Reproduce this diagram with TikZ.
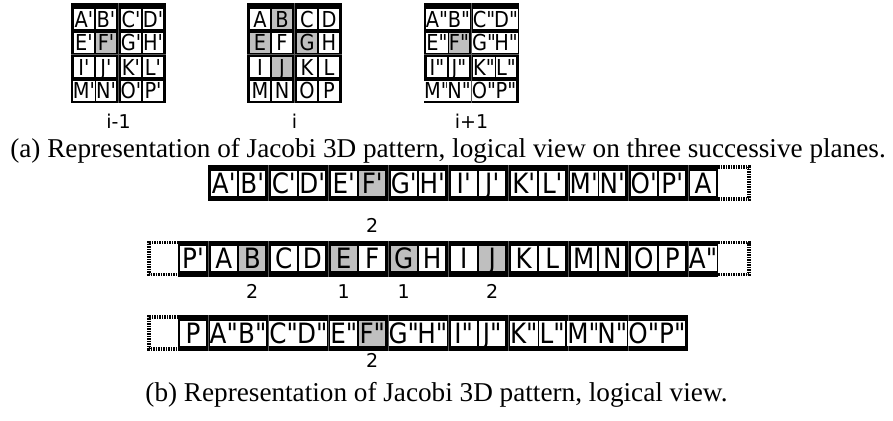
\documentclass[tikz,border=0pt]{standalone}
\usepackage{fontspec}
\setmainfont{Liberation Serif}
\newfontfamily\cellfont[FakeStretch=0.88,Ligatures=TeXOff]{DejaVu Sans}
\newfontfamily\labfont{DejaVu Sans}
\colorlet{c0}{white}
\colorlet{c1}{black!25}
\tikzstyle{cellule} = [rectangle, inner sep=0pt, minimum width=13pt, minimum height=12.5pt, text height=10.2pt, text depth=0pt, font=\cellfont\fontsize{14}{14}\selectfont]
\tikzstyle{petite} = [rectangle, inner sep=0pt, minimum width=10pt, minimum height=10pt, text height=8pt, text depth=0pt, font=\cellfont\fontsize{11}{11}\selectfont]
\tikzstyle{bande} = [fill=black]
\tikzstyle{couture} = [draw=black!65, line width=0.4pt]
\tikzstyle{pointille} = [line width=1.6pt, dash pattern=on 0.75pt off 0.5pt]
\tikzstyle{indice} = [inner sep=0pt, font=\labfont\fontsize{9.5}{9.5}\selectfont]
\tikzstyle{legende} = [inner sep=0pt, anchor=base, font=\fontsize{13.6}{16}\selectfont]

\begin{document}
\begin{tikzpicture}[x=0.5pt,y=-0.5pt]
                \useasboundingbox (0,0) rectangle (893,420);

                % plan i-1
                \fill[bande] (71,3) rectangle +(95,100);
                \draw[couture] (118.5,3) -- (118.5,103);
                \draw[couture] (71,54.75) -- (166,54.75);
                \foreach \t/\c [count=\n from 0] in {A'/0,B'/0,C'/0,D'/0,E'/0,F'/1,G'/0,H'/0,I'/0,J'/0,K'/0,L'/0,M'/0,N'/0,O'/0,P'/0}{
                    \pgfmathtruncatemacro\col{mod(\n,4)}
                    \pgfmathtruncatemacro\lig{int(\n/4)}
                    \node[petite, fill=c\c] (pa\n) at ({71+13+22*\col+3*int(\col/2)}, {3+16+23.5*\lig+int(\lig/2)}) {\t};
                }
                \node[indice] (ia) at (118.5,121.5) {i-1};

                % plan i
                \fill[bande] (247,3) rectangle +(95,100);
                \draw[couture] (294.5,3) -- (294.5,103);
                \draw[couture] (247,54.75) -- (342,54.75);
                \foreach \t/\c [count=\n from 0] in {A/0,B/1,C/0,D/0,E/1,F/0,G/1,H/0,I/0,J/1,K/0,L/0,M/0,N/0,O/0,P/0}{
                    \pgfmathtruncatemacro\col{mod(\n,4)}
                    \pgfmathtruncatemacro\lig{int(\n/4)}
                    \node[petite, fill=c\c] (pb\n) at ({247+13+22*\col+3*int(\col/2)}, {3+16+23.5*\lig+int(\lig/2)}) {\t};
                }
                \node[indice] (ib) at (294.5,121.5) {i};

                % plan i+1
                \fill[bande] (424,3) rectangle +(95,100);
                \draw[couture] (471.5,3) -- (471.5,103);
                \draw[couture] (424,54.75) -- (519,54.75);
                \foreach \t/\c [count=\n from 0] in {A"/0,B"/0,C"/0,D"/0,E"/0,F"/1,G"/0,H"/0,I"/0,J"/0,K"/0,L"/0,M"/0,N"/0,O"/0,P"/0}{
                    \pgfmathtruncatemacro\col{mod(\n,4)}
                    \pgfmathtruncatemacro\lig{int(\n/4)}
                    \node[petite, fill=c\c] (pc\n) at ({424+13+22*\col+3*int(\col/2)}, {3+16+23.5*\lig+int(\lig/2)}) {\t};
                }
                \node[indice] (ic) at (471.5,121.5) {i+1};

                \node[legende] (lega) at (448,157) {(a) Representation of Jacobi 3D pattern, logical view on three successive planes.};

                % vue logique, ligne 1
                \fill[bande] (208,165) rectangle (718,201);
                \foreach \x in {268,328,...,688} \draw[couture] (\x,165) -- (\x,201);
                \foreach \t/\c [count=\k from 0] in {A'/0,B'/0,C'/0,D'/0,E'/0,F'/1,G'/0,H'/0,I'/0,J'/0,K'/0,L'/0,M'/0,N'/0,O'/0,P'/0,A/0}{
                    \pgfmathsetmacro\dx{\k==16 ? 0 : (mod(\k,2)==0 ? 0.75 : -0.75)}
                    \node[cellule, fill=c\c] (ra\k) at ({208+30*\k+15+\dx}, 183) {\t};
                }
                \draw[pointille] (718,167) -- (749,167) -- (749,199) -- (718,199);
                \node[indice] (na) at (ra5 |- 0,225) {2};

                % ligne 2
                \fill[bande] (178,240.5) rectangle (718,276.5);
                \foreach \x in {208,268,...,688} \draw[couture] (\x,240.5) -- (\x,276.5);
                \foreach \t/\c [count=\k from 0] in {P'/0,A/0,B/1,C/0,D/0,E/1,F/0,G/1,H/0,I/0,J/1,K/0,L/0,M/0,N/0,O/0,P/0,A"/0}{
                    \pgfmathsetmacro\dx{(\k==0 || \k==17) ? 0 : (mod(\k,2)==1 ? 0.75 : -0.75)}
                    \node[cellule, fill=c\c] (rb\k) at ({178+30*\k+15+\dx}, 258.5) {\t};
                }
                \draw[pointille] (178,242.5) -- (149,242.5) -- (149,274.5) -- (178,274.5);
                \draw[pointille] (718,242.5) -- (749,242.5) -- (749,274.5) -- (718,274.5);
                \node[indice] (nb1) at (rb2 |- 0,291.5) {2};
                \node[indice] (nb2) at (rb5 |- 0,291.5) {1};
                \node[indice] (nb3) at (rb7 |- 0,291.5) {1};
                \node[indice] (nb4) at (rb10 |- 0,291.5) {2};

                % ligne 3
                \fill[bande] (178,315) rectangle (688,351);
                \foreach \x in {208,268,...,628} \draw[couture] (\x,315) -- (\x,351);
                \foreach \t/\c [count=\k from 0] in {P/0,A"/0,B"/0,C"/0,D"/0,E"/0,F"/1,G"/0,H"/0,I"/0,J"/0,K"/0,L"/0,M"/0,N"/0,O"/0,P"/0}{
                    \pgfmathsetmacro\dx{\k==0 ? 0 : (mod(\k,2)==1 ? 0.75 : -0.75)}
                    \node[cellule, fill=c\c] (rc\k) at ({178+30*\k+15+\dx}, 333) {\t};
                }
                \draw[pointille] (178,317) -- (149,317) -- (149,349) -- (178,349);
                \node[indice] (nc) at (rc6 |- 0,360) {2};

                \node[legende] (legb) at (436.5,401) {(b) Representation of Jacobi 3D pattern, logical view.};
            \end{tikzpicture}
\end{document}
